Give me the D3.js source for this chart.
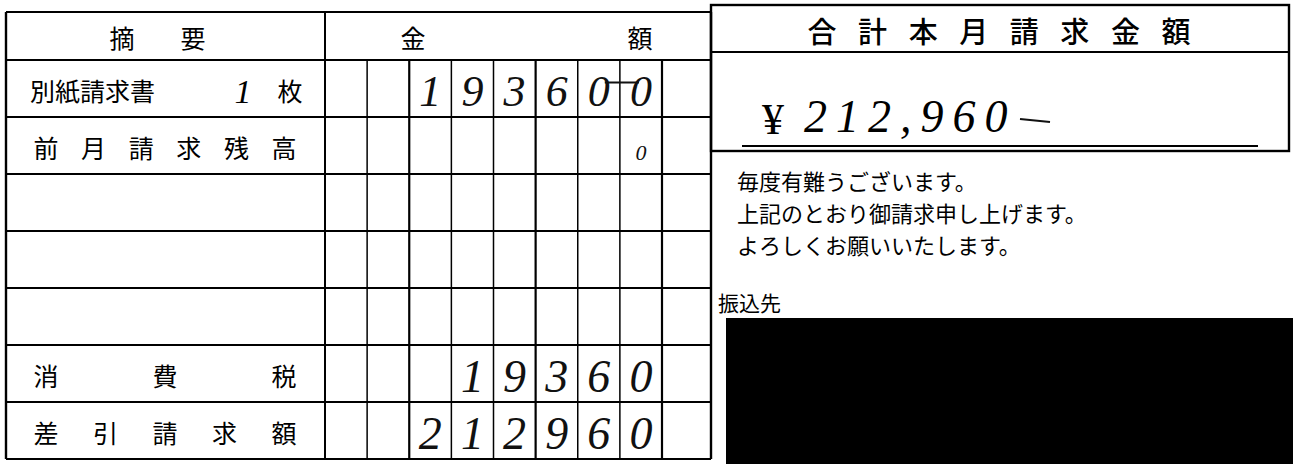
<!DOCTYPE html>
<html><head><meta charset="utf-8">
<script src="https://cdn.jsdelivr.net/npm/d3@7"></script>
<style>body{margin:0;background:#fff}svg{display:block}</style>
</head><body>
<svg id="c" width="1293" height="464"></svg>
<script>
// ---- data ----
const descHeader = ["摘", "要"];
const amountHeader = ["金", "額"];
const rowLabels = ["別紙請求書", "前月請求残高", "", "", "", "消費税", "差引請求額"];
const rowAmounts = [193600, 0, null, null, null, 19360, 212960];
const sheetCount = "1";
const sheetUnit = "枚";
const totalTitle = "合計本月請求金額";
const totalAmount = 212960;
const messageLines = ["毎度有難うございます。", "上記のとおり御請求申し上げます。", "よろしくお願いいたします。"];
const transferLabel = "振込先";
const digitCount = 8;

// ---- layout ----
const svg = d3.select("#c");
const JP = "'Noto Sans CJK JP', sans-serif";
const HAND = "'Liberation Serif', serif";
const L = 6, R = 711, TOP = 12, HEAD = 60, BOT = 459, DESC = 325, EXTRA = 662;
const y = d3.scaleBand().domain(d3.range(rowLabels.length)).range([HEAD, BOT]);
const x = d3.scaleLinear().domain([0, digitCount]).range([DESC, EXTRA]);
const g = svg.append("g");

// horizontal lines of left table
const hLines = [TOP, HEAD, ...y.domain().slice(1).map(i => y(i)), BOT];
g.selectAll("line.h").data(hLines).join("line")
  .attr("x1", L).attr("x2", R).attr("y1", d => d).attr("y2", d => d)
  .attr("stroke", "#000").attr("stroke-width", 2);
// outer verticals
g.selectAll("line.v").data([L, DESC, R]).join("line")
  .attr("x1", d => d).attr("x2", d => d).attr("y1", TOP).attr("y2", BOT)
  .attr("stroke", "#000").attr("stroke-width", d => d === DESC ? 2 : 2.4);
// digit column lines
g.selectAll("line.d").data(d3.range(1, digitCount + 1)).join("line")
  .attr("x1", d => x(d)).attr("x2", d => x(d)).attr("y1", HEAD).attr("y2", BOT)
  .attr("stroke", "#000").attr("stroke-width", d => (d === 2 || d === 5 || d === 8) ? 2.2 : 1.5);

// header texts
const descX = d3.scalePoint().domain(descHeader).range([122, 193]);
g.selectAll("text.dh").data(descHeader).join("text")
  .attr("x", d => descX(d)).attr("y", (TOP + HEAD) / 2 + 1)
  .attr("text-anchor", "middle").attr("dominant-baseline", "central")
  .attr("font-family", JP).attr("font-size", 25).text(d => d);
const amtX = d3.scalePoint().domain(amountHeader).range([413, 640]);
g.selectAll("text.ah").data(amountHeader).join("text")
  .attr("x", d => amtX(d)).attr("y", (TOP + HEAD) / 2 + 1)
  .attr("text-anchor", "middle").attr("dominant-baseline", "central")
  .attr("font-family", JP).attr("font-size", 25).text(d => d);

// row labels
rowLabels.forEach((lab, i) => {
  if (!lab) return;
  const cy = y(i) + y.bandwidth() / 2 + 1;
  if (i === 0) {
    g.append("text").attr("x", 30).attr("y", cy)
      .attr("dominant-baseline", "central").attr("font-family", JP)
      .attr("font-size", 25).text(lab);
    g.append("text").attr("x", 243).attr("y", cy + 2)
      .attr("text-anchor", "middle").attr("dominant-baseline", "central")
      .attr("font-family", HAND).attr("font-style", "italic")
      .attr("font-size", 34).text(sheetCount);
    g.append("text").attr("x", 290).attr("y", cy)
      .attr("text-anchor", "middle").attr("dominant-baseline", "central")
      .attr("font-family", JP).attr("font-size", 25).text(sheetUnit);
    return;
  }
  const chars = Array.from(lab);
  const px = d3.scalePoint().domain(d3.range(chars.length)).range([46, 284]);
  g.selectAll(null).data(chars).join("text")
    .attr("x", (d, k) => px(k)).attr("y", cy)
    .attr("text-anchor", "middle").attr("dominant-baseline", "central")
    .attr("font-family", JP).attr("font-size", 25).text(d => d);
});

// handwritten digits
rowAmounts.forEach((v, i) => {
  if (v === null) return;
  const s = String(v);
  const digs = Array.from(s).map((c, k) => ({c, col: digitCount - s.length + k}));
  const cy = y(i) + y.bandwidth() / 2 + 3;
  const small = (v === 0);
  g.selectAll(null).data(digs).join("text")
    .attr("x", d => (x(d.col) + x(d.col + 1)) / 2)
    .attr("y", small ? cy + 4 : cy)
    .attr("text-anchor", "middle").attr("dominant-baseline", "central")
    .attr("font-family", HAND).attr("font-style", "italic")
    .attr("font-size", small ? 22 : (i === 0 ? 44 : 46)).attr("fill", "#111")
    .text(d => d.c);
  if (i === 0) {
    // connecting stroke across the two trailing zeros
    const a = (x(digitCount - 2) + x(digitCount - 1)) / 2, b = (x(digitCount - 1) + x(digitCount)) / 2;
    g.append("line").attr("x1", a + 6).attr("x2", b - 2)
      .attr("y1", cy - 9).attr("y2", cy - 9).attr("stroke", "#111").attr("stroke-width", 2);
  }
});

// ---- right panel ----
const RB = {x0: R, x1: 1289, top: 5, head: 52, bot: 151};
const rp = svg.append("g");
rp.append("rect").attr("x", RB.x0).attr("y", RB.top)
  .attr("width", RB.x1 - RB.x0).attr("height", RB.bot - RB.top)
  .attr("fill", "none").attr("stroke", "#000").attr("stroke-width", 2.4);
rp.append("line").attr("x1", RB.x0).attr("x2", RB.x1).attr("y1", RB.head).attr("y2", RB.head)
  .attr("stroke", "#000").attr("stroke-width", 2);
const tChars = Array.from(totalTitle);
const tx = d3.scalePoint().domain(d3.range(tChars.length)).range([822, 1176]);
rp.selectAll(null).data(tChars).join("text")
  .attr("x", (d, k) => tx(k)).attr("y", (RB.top + RB.head) / 2 + 1)
  .attr("text-anchor", "middle").attr("dominant-baseline", "central")
  .attr("font-family", JP).attr("font-weight", 500).attr("font-size", 29).text(d => d);
// amount
const amtStr = d3.format(",")(totalAmount);
rp.append("text").attr("x", 762).attr("y", 119)
  .attr("dominant-baseline", "central").attr("font-family", "'Liberation Serif', serif")
  .attr("font-size", 44).text("¥");
rp.append("text").attr("x", 804).attr("y", 116)
  .attr("dominant-baseline", "central").attr("font-family", HAND).attr("font-style", "italic")
  .attr("font-size", 46).attr("letter-spacing", 9).text(amtStr);
rp.append("line").attr("x1", 1020).attr("x2", 1050).attr("y1", 119).attr("y2", 122)
  .attr("stroke", "#111").attr("stroke-width", 2);
rp.append("line").attr("x1", 742).attr("x2", 1258).attr("y1", 146).attr("y2", 146)
  .attr("stroke", "#000").attr("stroke-width", 2);

// messages
const my = d3.scalePoint().domain(d3.range(messageLines.length)).range([180, 244]);
rp.selectAll(null).data(messageLines).join("text")
  .attr("x", 737).attr("y", (d, k) => my(k))
  .attr("dominant-baseline", "central").attr("font-family", JP)
  .attr("font-size", 22).text(d => d);
rp.append("text").attr("x", 718).attr("y", 302)
  .attr("dominant-baseline", "central").attr("font-family", JP)
  .attr("font-size", 21).text(transferLabel);
rp.append("rect").attr("x", 726).attr("y", 318).attr("width", 1293 - 726).attr("height", 464 - 318)
  .attr("fill", "#000");
</script>
</body></html>
